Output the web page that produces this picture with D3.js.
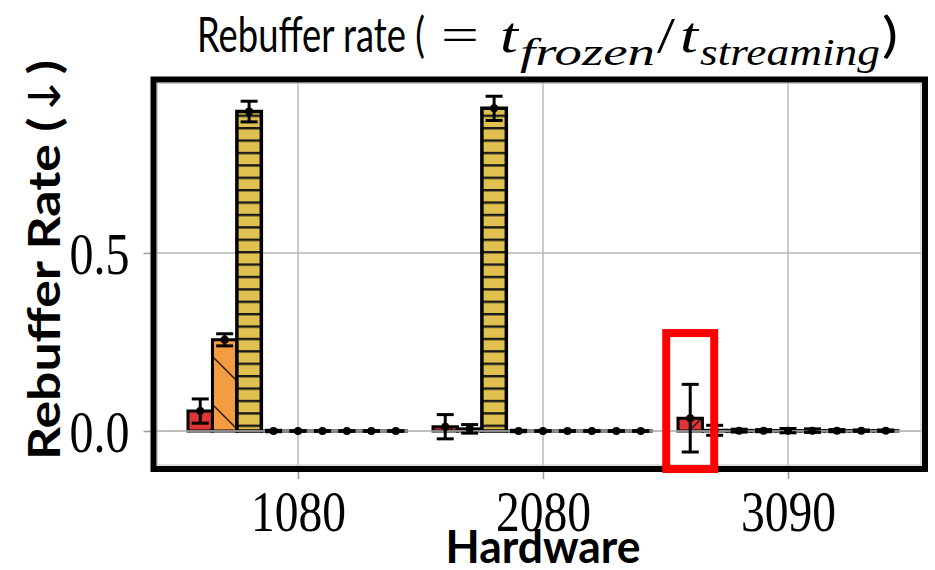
<!DOCTYPE html>
<html>
<head>
<meta charset="utf-8">
<script src="https://cdn.jsdelivr.net/npm/d3@7"></script>
<style>
  body { margin: 0; background: #fff; }
</style>
</head>
<body>
<div id="chart"></div>
<script>
// hardware groups
const hardware = ['1080', '2080', '3090'];
// nine bars per group, only the first three carry visible values
const series = ['s1', 's2', 's3', 's4', 's5', 's6', 's7', 's8', 's9'];
const rate1080 = [0.056, 0.256, 0.897, 0.0, 0.0, 0.0, 0.0, 0.0, 0.0];
const err1080  = [0.034, 0.017, 0.029, 0.002, 0.001, 0.001, 0.001, 0.001, 0.001];
const rate2080 = [0.012, 0.006, 0.906, 0.0, 0.0, 0.0, 0.0, 0.0, 0.0];
const err2080  = [0.034, 0.012, 0.034, 0.002, 0.001, 0.001, 0.001, 0.001, 0.001];
const rate3090 = [0.036, 0.002, 0.001, 0.001, 0.001, 0.001, 0.001, 0.001, 0.001];
const err3090  = [0.095, 0.014, 0.004, 0.003, 0.006, 0.005, 0.003, 0.002, 0.002];
const yTicks = [0.0, 0.5];

const rates = [rate1080, rate2080, rate3090];
const errs = [err1080, err2080, err3090];

const width = 935, height = 570;
const margin = { top: 79.5, right: 10, bottom: 101, left: 153.5 };

const svg = d3.select('#chart')
    .append('svg')
    .attr('width', width)
    .attr('height', height)
    .style('font-family', 'Liberation Serif');

const defs = svg.append('defs');

// hatch patterns
const hatchRed = defs.append('pattern')
    .attr('id', 'hatchRed').attr('patternUnits', 'userSpaceOnUse')
    .attr('width', 40).attr('height', 40);
hatchRed.append('rect').attr('width', 40).attr('height', 40).attr('fill', '#e03535');
hatchRed.append('path').attr('d', 'M-10,50 L50,-10').attr('stroke', '#2a1010').attr('stroke-width', 1.5);

const hatchOrange = defs.append('pattern')
    .attr('id', 'hatchOrange').attr('patternUnits', 'userSpaceOnUse')
    .attr('width', 48).attr('height', 48);
hatchOrange.append('rect').attr('width', 48).attr('height', 48).attr('fill', '#f49c42');
hatchOrange.append('path').attr('d', 'M-10,-10 L58,58').attr('stroke', '#2a1a10').attr('stroke-width', 1.5);

const hatchYellow = defs.append('pattern')
    .attr('id', 'hatchYellow').attr('patternUnits', 'userSpaceOnUse')
    .attr('width', 20).attr('height', 12.4).attr('y', 3);
hatchYellow.append('rect').attr('width', 20).attr('height', 12.4).attr('fill', '#e0c04e');
hatchYellow.append('line').attr('x1', 0).attr('x2', 20).attr('y1', 1.2).attr('y2', 1.2)
    .attr('stroke', '#1a1a1a').attr('stroke-width', 2.4);

const fills = ['url(#hatchRed)', 'url(#hatchOrange)', 'url(#hatchYellow)',
    '#6aa84f', '#4a86c5', '#8e6bbf', '#999', '#c27ba0', '#76a5af'];

const x0 = margin.left, x1 = width - margin.right;
const yTop = margin.top, yBot = height - margin.bottom;

const xScale = d3.scalePoint().domain(hardware).range([298, 788]);
const xInner = d3.scaleBand().domain(series).range([-110, 110]);
const yScale = d3.scaleLinear().domain([-0.1067, 0.987]).range([yBot, yTop]);

// grid
const grid = svg.append('g');
grid.selectAll('line.gx').data(hardware).enter().append('line')
    .attr('x1', d => xScale(d)).attr('x2', d => xScale(d))
    .attr('y1', yTop).attr('y2', yBot)
    .attr('stroke', '#b8b8b8').attr('stroke-width', 1.5);
grid.selectAll('line.gy').data(yTicks).enter().append('line')
    .attr('x1', x0).attr('x2', x1)
    .attr('y1', d => yScale(d)).attr('y2', d => yScale(d))
    .attr('stroke', '#b8b8b8').attr('stroke-width', 1.5);

// bars
const barData = [];
hardware.forEach((h, gi) => {
    series.forEach((s, si) => {
        barData.push({ h, s, si, v: rates[gi][si], e: errs[gi][si] });
    });
});

const bw = xInner.bandwidth();
svg.append('g').selectAll('path').data(barData).enter().append('path')
    .attr('d', d => {
        const bx = xScale(d.h) + xInner(d.s);
        const by0 = yScale(0), by1 = yScale(d.v);
        return `M${bx},${by0}H${bx + bw}V${by1}H${bx}Z`;
    })
    .attr('fill', d => fills[d.si])
    .attr('stroke', '#000')
    .attr('stroke-width', d => d.si === 2 ? 3.5 : 3);

// zero line
svg.append('line')
    .attr('x1', x0).attr('x2', x1)
    .attr('y1', yScale(0)).attr('y2', yScale(0))
    .attr('stroke', '#b8b8b8').attr('stroke-width', 1.5);

// error bars
const eb = svg.append('g').selectAll('g').data(barData).enter().append('g')
    .attr('transform', d => `translate(${xScale(d.h) + xInner(d.s) + bw / 2},0)`);
eb.append('line')
    .attr('y1', d => yScale(d.v - d.e)).attr('y2', d => yScale(d.v + d.e))
    .attr('stroke', '#000').attr('stroke-width', 3);
eb.append('line')
    .attr('x1', -8.5).attr('x2', 8.5)
    .attr('y1', d => yScale(d.v + d.e)).attr('y2', d => yScale(d.v + d.e))
    .attr('stroke', '#000').attr('stroke-width', 3);
eb.append('line')
    .attr('x1', -8.5).attr('x2', 8.5)
    .attr('y1', d => yScale(d.v - d.e)).attr('y2', d => yScale(d.v - d.e))
    .attr('stroke', '#000').attr('stroke-width', 3);
eb.append('circle')
    .attr('cy', d => yScale(d.v)).attr('r', 4).attr('fill', '#000');

// axes
const xAxis = svg.append('g')
    .attr('transform', `translate(0,${yBot})`)
    .call(d3.axisBottom(xScale).tickSize(10).tickPadding(13));
const yAxis = svg.append('g')
    .attr('transform', `translate(${x0},0)`)
    .call(d3.axisLeft(yScale).tickValues(yTicks).tickFormat(d3.format('.1f')).tickSize(10).tickPadding(14));
[xAxis, yAxis].forEach(a => {
    a.select('.domain').remove();
    a.selectAll('.tick line').attr('stroke', '#999').attr('stroke-width', 1.5);
    a.selectAll('.tick text')
        .attr('fill', '#000')
        .style('font-family', 'Liberation Serif')
        .style('font-size', '58px');
});
xAxis.selectAll('.tick text').attr('textLength', 95).attr('lengthAdjust', 'spacingAndGlyphs')
    .attr('dy', '0.68em');
yAxis.selectAll('.tick text').attr('textLength', 60).attr('lengthAdjust', 'spacingAndGlyphs')
    .attr('dy', '0.34em').style('font-size', '60px');

// frame
svg.append('rect')
    .attr('x', x0 + 4).attr('y', yTop + 4)
    .attr('width', x1 - x0 - 8).attr('height', yBot - yTop - 8)
    .attr('fill', 'none').attr('stroke', '#c8c8c8').attr('stroke-width', 1.2);
svg.append('rect')
    .attr('x', x0).attr('y', yTop)
    .attr('width', x1 - x0).attr('height', yBot - yTop)
    .attr('fill', 'none').attr('stroke', '#000').attr('stroke-width', 6);

// highlight box around the 3090 red bar
const hx = xScale('3090') + xInner('s1') + bw / 2;
svg.append('rect')
    .attr('x', hx - 24).attr('y', yScale(0.275))
    .attr('width', 48).attr('height', yBot - yScale(0.275))
    .attr('fill', 'none').attr('stroke', '#ff0000').attr('stroke-width', 8);

// axis titles
svg.append('text')
    .attr('x', 543).attr('y', 563)
    .attr('text-anchor', 'middle')
    .attr('textLength', 195).attr('lengthAdjust', 'spacingAndGlyphs')
    .style('font-family', 'Lato').style('font-weight', 700).style('font-size', '45px')
    .text('Hardware');

const ylab = svg.append('text')
    .attr('transform', 'translate(60,260) rotate(-90)')
    .attr('text-anchor', 'middle')
    .attr('textLength', 400).attr('lengthAdjust', 'spacingAndGlyphs')
    .style('font-family', 'Lato').style('font-weight', 700).style('font-size', '44px');
ylab.append('tspan').text('Rebuffer Rate (');
ylab.append('tspan').style('font-family', 'DejaVu Sans').style('font-weight', 400).text('\u2193');
ylab.append('tspan').text(')');

// title
const title = svg.append('g');
const part = (txt, x, y, len, font, size, italic) => title.append('text')
    .attr('x', x).attr('y', y)
    .attr('textLength', len).attr('lengthAdjust', 'spacingAndGlyphs')
    .style('font-family', font).style('font-size', size + 'px')
    .style('font-style', italic ? 'italic' : 'normal')
    .text(txt);
part('Rebuffer rate (', 197, 52, 228, 'Lato', 48, false);
part('=', 441, 50, 38, 'Liberation Serif', 46, false);
part('t', 500, 52, 18, 'Liberation Serif', 50, true);
part('frozen', 520, 65, 135, 'Liberation Serif', 38, true);
part('/', 657, 52, 18, 'Liberation Serif', 50, false);
part('t', 680, 52, 18, 'Liberation Serif', 50, true);
part('streaming', 700, 65, 180, 'Liberation Serif', 38, true);
part(')', 882, 52, 16, 'Lato', 48, false);
</script>
</body>
</html>
